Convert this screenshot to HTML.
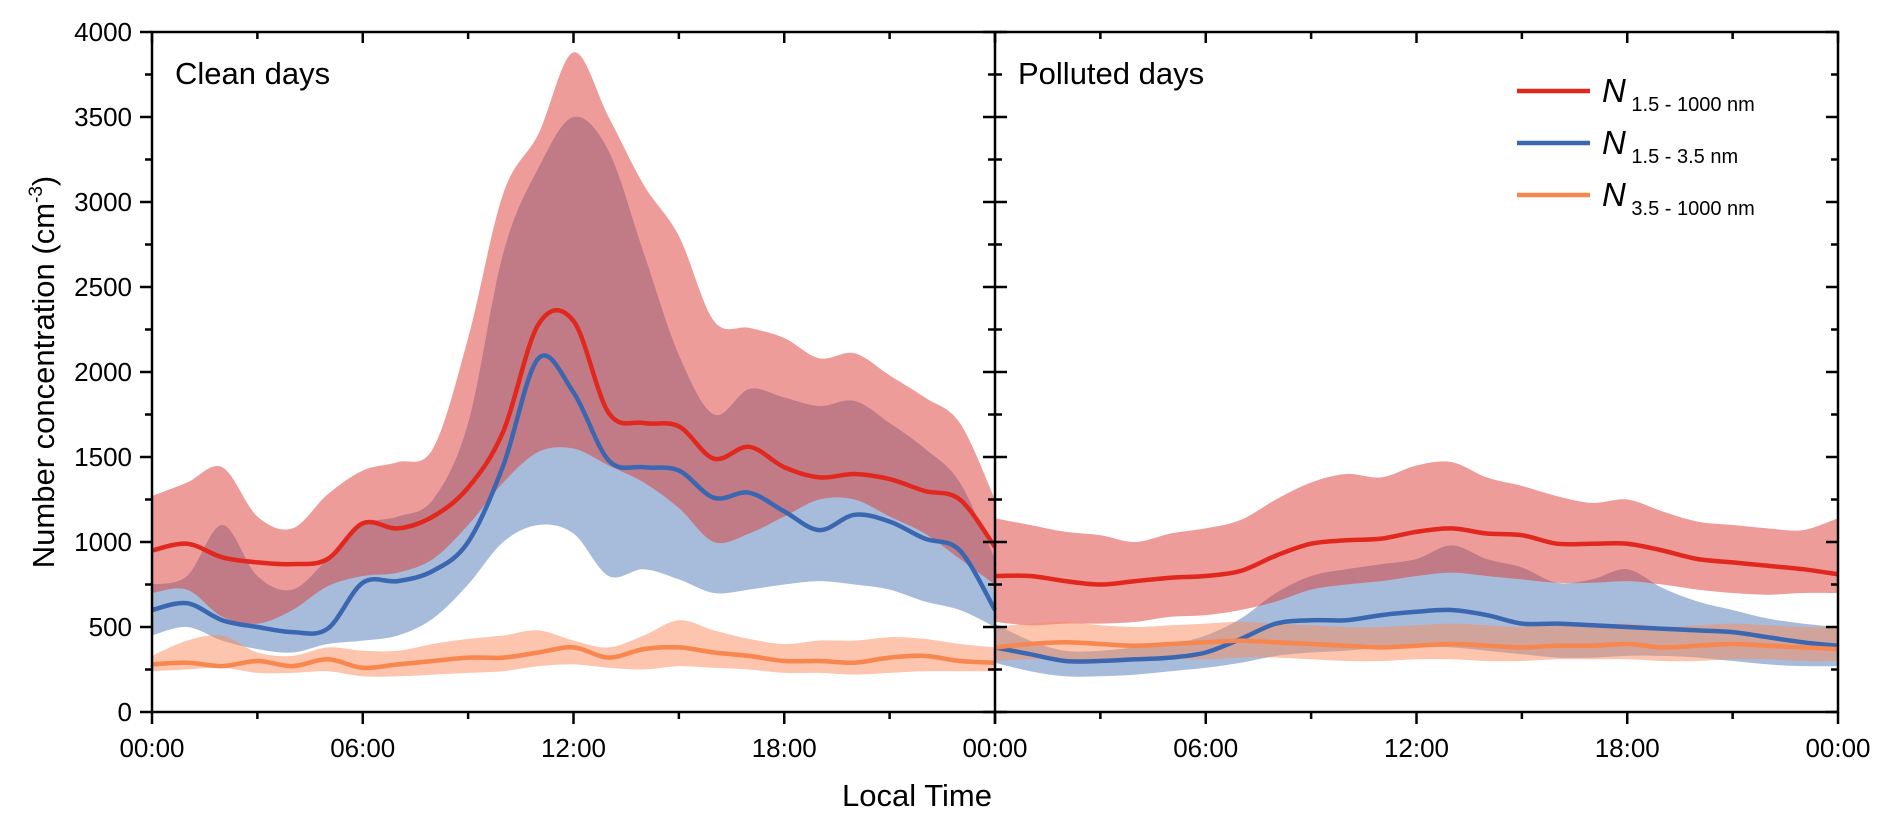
<!DOCTYPE html>
<html><head><meta charset="utf-8"><style>
html,body{margin:0;padding:0;background:#fff}
svg{display:block;font-family:"Liberation Sans",Arial,sans-serif}
</style></head><body>
<svg id="chart" width="1892" height="826" viewBox="0 0 1892 826">
<g id="bands"></g><g id="lines"></g><g id="axes"></g>
</svg>
<script>
const hours=[0,1,2,3,4,5,6,7,8,9,10,11,12,13,14,15,16,17,18,19,20,21,22,23,24];
const yTicks=[0,500,1000,1500,2000,2500,3000,3500,4000];
const xTickLabels=["00:00","06:00","12:00","18:00","00:00"];
// Clean days
const cRedMean=[950,990,910,880,870,900,1110,1080,1150,1320,1650,2280,2300,1760,1700,1680,1490,1560,1440,1380,1400,1370,1300,1250,970];
const cRedUp=[1270,1350,1440,1150,1080,1280,1420,1470,1550,2200,3050,3400,3880,3500,3100,2800,2300,2260,2200,2080,2110,1980,1850,1700,1250];
const cRedLo=[700,720,560,520,600,740,800,820,900,1100,1350,1530,1550,1450,1350,1200,1000,1050,1150,1250,1250,1150,1050,900,750];
const cBlueMean=[600,640,540,500,470,490,760,770,830,1000,1450,2080,1880,1480,1440,1420,1260,1290,1180,1070,1160,1120,1020,950,600];
const cBlueUp=[750,800,1100,800,720,900,1100,1150,1250,1700,2700,3200,3500,3300,2700,2100,1750,1900,1850,1800,1830,1700,1550,1350,900];
const cBlueLo=[450,500,420,370,350,400,420,450,550,750,1000,1100,1050,800,840,780,700,720,750,770,750,720,650,600,500];
const cOrMean=[280,290,270,300,270,310,260,280,300,320,320,350,380,320,370,380,350,330,300,300,290,320,330,300,290];
const cOrUp=[330,420,450,350,330,380,360,360,400,430,450,480,420,380,450,540,480,430,400,420,420,440,430,400,380];
const cOrLo=[240,250,260,230,230,240,210,210,220,230,240,270,280,260,250,270,260,250,230,230,220,230,240,240,240];
// Polluted days
const pRedMean=[800,800,770,750,770,790,800,830,920,990,1010,1020,1060,1080,1050,1040,990,990,990,950,900,880,860,840,810];
const pRedUp=[1140,1100,1060,1040,1000,1050,1080,1130,1250,1350,1400,1380,1450,1470,1380,1330,1270,1230,1250,1180,1120,1100,1080,1070,1140];
const pRedLo=[530,510,520,520,530,560,570,600,650,720,750,770,800,820,800,780,760,760,770,750,720,700,690,700,700];
const pBlueMean=[380,340,300,300,310,320,350,430,520,540,540,570,590,600,570,520,520,510,500,490,480,470,440,410,390];
const pBlueUp=[520,420,360,360,380,400,450,550,700,800,840,870,900,980,900,850,760,780,840,730,650,600,550,520,500];
const pBlueLo=[290,240,210,210,220,240,260,290,330,350,360,380,380,380,360,340,320,320,330,330,320,300,280,270,270];
const pOrMean=[380,400,410,400,390,400,410,420,410,400,390,380,390,400,390,380,390,390,400,380,390,400,390,380,370];
const pOrUp=[500,520,530,510,500,510,520,530,520,510,500,500,510,520,510,500,510,510,520,500,510,520,510,500,500];
const pOrLo=[300,310,310,300,300,310,310,320,320,310,300,300,310,310,300,300,310,310,310,300,300,310,310,300,300];

const NS="http://www.w3.org/2000/svg";
const Y0=712,Y1=32,L0=152,M=995,R1=1838;
const yS=v=>Y0-(v/4000)*(Y0-Y1);
const xS=(h,p)=>{const x0=p===0?L0:M,x1=p===0?M:R1;return x0+h/24*(x1-x0);};
function mk(t,a,par){const e=document.createElementNS(NS,t);for(const k in a)e.setAttribute(k,a[k]);(par||document.getElementById('chart')).appendChild(e);return e;}
function smooth(pts,move){let d=move?`M${pts[0][0]},${pts[0][1]}`:`L${pts[0][0]},${pts[0][1]}`;
 for(let i=0;i<pts.length-1;i++){const p0=pts[Math.max(0,i-1)],p1=pts[i],p2=pts[i+1],p3=pts[Math.min(pts.length-1,i+2)];
  d+=` C${p1[0]+(p2[0]-p0[0])/6},${p1[1]+(p2[1]-p0[1])/6} ${p2[0]-(p3[0]-p1[0])/6},${p2[1]-(p3[1]-p1[1])/6} ${p2[0]},${p2[1]}`;}
 return d;}
function pts(arr,p){return arr.map((v,i)=>[xS(hours[i],p),yS(v)]);}
function band(up,lo,p,color,name){const a=pts(up,p),b=pts(lo,p).reverse();
 const e=mk('path',{d:smooth(a,true)+' '+smooth(b,false)+' Z',fill:color,'fill-opacity':0.5},document.getElementById('bands'));
 
 }
function line(arr,p,color,name){const e=mk('path',{d:smooth(pts(arr,p),true),fill:'none',stroke:color,'stroke-width':4.5},document.getElementById('lines'));
 
 }
const RED='#dc3a33',BLUE='#4f79b8',OR='#fb8b5c';
band(cBlueUp,cBlueLo,0,BLUE,'clean-blue-band');band(cRedUp,cRedLo,0,RED,'clean-red-band');band(cOrUp,cOrLo,0,OR,'clean-orange-band');
band(pBlueUp,pBlueLo,1,BLUE,'polluted-blue-band');band(pRedUp,pRedLo,1,RED,'polluted-red-band');band(pOrUp,pOrLo,1,OR,'polluted-orange-band');
line(cRedMean,0,'#e0281e','clean-red-line');line(cBlueMean,0,'#3b67b0','clean-blue-line');line(cOrMean,0,'#f7864f','clean-orange-line');
line(pRedMean,1,'#e0281e','polluted-red-line');line(pBlueMean,1,'#3b67b0','polluted-blue-line');line(pOrMean,1,'#f7864f','polluted-orange-line');

const ax=document.getElementById('axes');
const fr=mk('rect',{x:L0,y:Y1,width:R1-L0,height:Y0-Y1,fill:'none',stroke:'#000','stroke-width':2.5},ax);

const dv=mk('line',{x1:M,y1:Y1,x2:M,y2:Y0,stroke:'#000','stroke-width':2.5},ax);

for(let v=0;v<=4000;v+=250){const y=yS(v),maj=v%500===0;
 mk('line',{x1:L0-(maj?12:7),y1:y,x2:L0,y2:y,stroke:'#000','stroke-width':2.5},ax);
 mk('line',{x1:R1,y1:y,x2:R1-(maj?12:7),y2:y,stroke:'#000','stroke-width':2.5},ax);
 mk('line',{x1:M-(maj?12:7),y1:y,x2:M+(maj?12:7),y2:y,stroke:'#000','stroke-width':2.5},ax);}
yTicks.forEach(v=>{const t=mk('text',{x:L0-20,y:yS(v)+9,'text-anchor':'end','font-size':26},ax);t.textContent=v;
 
 });
for(let p=0;p<2;p++){for(let h=0;h<=24;h+=3){const x=xS(h,p),maj=h%6===0;
 mk('line',{x1:x,y1:Y0,x2:x,y2:Y0+(maj?12:7),stroke:'#000','stroke-width':2.5},ax);
 mk('line',{x1:x,y1:Y1,x2:x,y2:Y1+(maj?11:7),stroke:'#000','stroke-width':2.5},ax);}
 xTickLabels.forEach((s,i)=>{if(p===1&&i===0)return;const t=mk('text',{x:xS(i*6,p),y:757,'text-anchor':'middle','font-size':26},ax);t.textContent=s;
  
  });}
</script>
<svg width="1892" height="826" style="position:absolute;left:0;top:0">
<text x="175" y="84" font-size="31" font-family="Liberation Sans,sans-serif">Clean days</text>
<text x="1018" y="84" font-size="31" font-family="Liberation Sans,sans-serif">Polluted days</text>
<text x="917" y="806" font-size="31" text-anchor="middle" font-family="Liberation Sans,sans-serif">Local Time</text>
<text transform="translate(54,372) rotate(-90)" font-size="31" text-anchor="middle" font-family="Liberation Sans,sans-serif">Number concentration (cm<tspan dy="-12" font-size="19">-3</tspan><tspan dy="12">)</tspan></text>
<g font-family="Liberation Sans,sans-serif">
<line x1="1517" y1="91" x2="1590" y2="91" stroke="#e0281e" stroke-width="4.5"/>
<text x="1602" y="102" font-size="33" font-style="italic">N<tspan font-style="normal" font-size="20" dy="9"> 1.5 - 1000 nm</tspan></text>
<line x1="1517" y1="143" x2="1590" y2="143" stroke="#3b67b0" stroke-width="4.5"/>
<text x="1602" y="154" font-size="33" font-style="italic">N<tspan font-style="normal" font-size="20" dy="9"> 1.5 - 3.5 nm</tspan></text>
<line x1="1517" y1="195" x2="1590" y2="195" stroke="#f7864f" stroke-width="4.5"/>
<text x="1602" y="206" font-size="33" font-style="italic">N<tspan font-style="normal" font-size="20" dy="9"> 3.5 - 1000 nm</tspan></text>
</g>
</svg>
</body></html>
